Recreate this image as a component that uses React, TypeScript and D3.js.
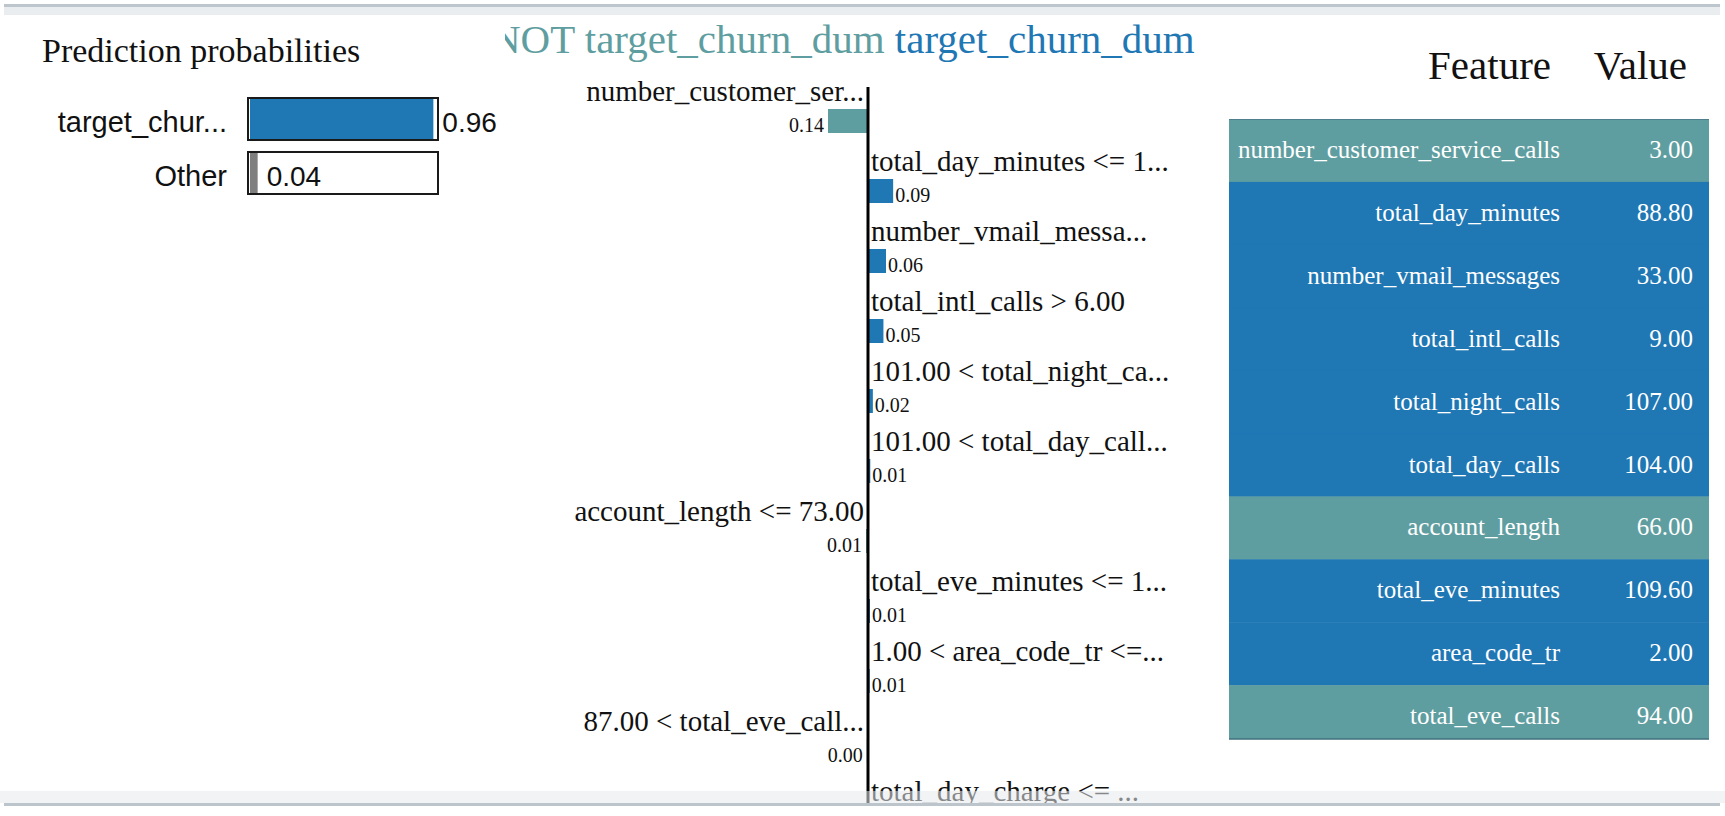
import React, { useRef, useEffect } from "react";
import * as d3 from "d3";

// prediction probabilities
const probClasses = ["target_chur...", "Other"];
const probValues = [0.96, 0.04];
const probColors = ["#1f77b4", "#7f7f7f"];

// explanation title
const titleNeg = "NOT target_churn_dum";
const titlePos = "target_churn_dum";

// explanation bars (negative = NOT class)
const featureLabels = [
  "number_customer_ser...",
  "total_day_minutes <= 1...",
  "number_vmail_messa...",
  "total_intl_calls > 6.00",
  "101.00 < total_night_ca...",
  "101.00 < total_day_call...",
  "account_length <= 73.00",
  "total_eve_minutes <= 1...",
  "1.00 < area_code_tr <=...",
  "87.00 < total_eve_call...",
  "total_day_charge <= ...",
];
const featureWeights = [
  -0.14, 0.088, 0.063, 0.054, 0.017, 0.008, -0.007, 0.007, 0.006, -0.004, 0.004,
];

// feature value table
const tableFeatures = [
  "number_customer_service_calls",
  "total_day_minutes",
  "number_vmail_messages",
  "total_intl_calls",
  "total_night_calls",
  "total_day_calls",
  "account_length",
  "total_eve_minutes",
  "area_code_tr",
  "total_eve_calls",
];
const tableValues = [3.0, 88.8, 33.0, 9.0, 107.0, 104.0, 66.0, 109.6, 2.0, 94.0];

const TEAL = "#5f9ea0";
const BLUE = "#1f77b4";
const SERIF = "'Liberation Serif', 'Times New Roman', serif";
const SANS = "'Liberation Sans', Arial, sans-serif";

export default function App() {
  const svgRef = useRef(null);

  useEffect(() => {
    const width = 1725;
    const height = 816;
    const svg = d3.select(svgRef.current).attr("width", width).attr("height", height);
    svg.selectAll("*").remove();

    svg.append("rect").attr("width", width).attr("height", height).attr("fill", "white");

    const defs = svg.append("defs");
    defs
      .append("clipPath")
      .attr("id", "titleClip")
      .append("rect")
      .attr("x", 505)
      .attr("y", 0)
      .attr("width", 800)
      .attr("height", 90);
    defs
      .append("clipPath")
      .attr("id", "tableClip")
      .append("rect")
      .attr("x", 1200)
      .attr("y", 119)
      .attr("width", 520)
      .attr("height", 620);

    // ---- Prediction probabilities ----
    svg
      .append("text")
      .attr("x", 42)
      .attr("y", 62)
      .attr("font-family", SERIF)
      .attr("font-size", 34)
      .attr("fill", "#111")
      .text("Prediction probabilities");

    const px = d3.scaleLinear().domain([0, 1]).range([250, 441]);
    const py = d3.scaleBand().domain(probClasses).range([97, 195]).paddingInner(0.185);

    const prob = svg
      .selectAll("g.prob")
      .data(probClasses)
      .enter()
      .append("g")
      .attr("class", "prob");

    prob
      .append("rect")
      .attr("x", px(0))
      .attr("y", (d) => py(d) + 2)
      .attr("width", (d, i) => px(probValues[i]) - px(0))
      .attr("height", py.bandwidth() - 4)
      .attr("fill", (d, i) => probColors[i]);

    prob
      .append("rect")
      .attr("x", px(0) - 2)
      .attr("y", (d) => py(d) + 1)
      .attr("width", px(1) - px(0) - 1)
      .attr("height", py.bandwidth() - 2)
      .attr("fill", "none")
      .attr("stroke", "#1a1a1a")
      .attr("stroke-width", 2);

    prob
      .append("text")
      .attr("x", 227)
      .attr("y", (d) => py(d) + 35)
      .attr("text-anchor", "end")
      .attr("font-family", SANS)
      .attr("font-size", 29)
      .attr("fill", "#111")
      .text((d) => d);

    prob
      .append("text")
      .attr("x", (d, i) => px(probValues[i]) + 9)
      .attr("y", (d) => py(d) + 35)
      .attr("font-family", SANS)
      .attr("font-size", 28)
      .attr("fill", "#111")
      .text((d, i) => probValues[i].toFixed(2));

    // ---- Explanation ----
    const title = svg
      .append("g")
      .attr("clip-path", "url(#titleClip)")
      .append("text")
      .attr("x", 491)
      .attr("y", 53)
      .attr("font-family", SERIF)
      .attr("font-size", 41);
    title.append("tspan").attr("fill", TEAL).text(titleNeg + " ");
    title.append("tspan").attr("fill", BLUE).text(titlePos);

    const ex = d3.scaleLinear().domain([-0.14, 0.14]).range([828, 908]);
    const rowY = d3.scaleLinear().domain([0, 1]).range([101, 171]);

    const feat = svg
      .selectAll("g.feat")
      .data(featureWeights)
      .enter()
      .append("g")
      .attr("class", "feat");

    feat
      .append("rect")
      .attr("x", (w) => Math.min(ex(0), ex(w)))
      .attr("y", (w, i) => rowY(i) + 8)
      .attr("width", (w) => Math.abs(ex(w) - ex(0)))
      .attr("height", 24)
      .attr("fill", (w) => (w < 0 ? TEAL : BLUE));

    feat
      .append("text")
      .attr("x", (w) => (w < 0 ? 864 : 871))
      .attr("y", (w, i) => rowY(i))
      .attr("text-anchor", (w) => (w < 0 ? "end" : "start"))
      .attr("font-family", SERIF)
      .attr("font-size", 29)
      .attr("fill", "#111")
      .text((w, i) => featureLabels[i]);

    feat
      .append("text")
      .attr("x", (w) => (w < 0 ? ex(w) - 4 : ex(w) + 2))
      .attr("y", (w, i) => rowY(i) + 31)
      .attr("text-anchor", (w) => (w < 0 ? "end" : "start"))
      .attr("font-family", SERIF)
      .attr("font-size", 20)
      .attr("fill", "#111")
      .text((w) => Math.abs(w).toFixed(2));

    svg
      .append("line")
      .attr("x1", ex(0))
      .attr("x2", ex(0))
      .attr("y1", 87)
      .attr("y2", height)
      .attr("stroke", "#000")
      .attr("stroke-width", 3);

    // ---- Feature / Value table ----
    svg
      .append("text")
      .attr("x", 1551)
      .attr("y", 79)
      .attr("text-anchor", "end")
      .attr("font-family", SERIF)
      .attr("font-size", 41)
      .attr("fill", "#111")
      .text("Feature");
    svg
      .append("text")
      .attr("x", 1687)
      .attr("y", 79)
      .attr("text-anchor", "end")
      .attr("font-family", SERIF)
      .attr("font-size", 41)
      .attr("fill", "#111")
      .text("Value");

    const ty = d3.scaleLinear().domain([0, 1]).range([119, 181.9]);
    const rowH = ty(1) - ty(0);
    const table = svg.append("g").attr("clip-path", "url(#tableClip)");
    const trow = table
      .selectAll("g.trow")
      .data(tableFeatures)
      .enter()
      .append("g")
      .attr("class", "trow");

    trow
      .append("rect")
      .attr("x", 1229)
      .attr("y", (d, i) => ty(i))
      .attr("width", 480)
      .attr("height", rowH + 0.5)
      .attr("fill", (d, i) => (featureWeights[i] < 0 ? TEAL : BLUE));

    trow
      .append("text")
      .attr("x", 1560)
      .attr("y", (d, i) => ty(i) + 39)
      .attr("text-anchor", "end")
      .attr("font-family", SERIF)
      .attr("font-size", 25)
      .attr("fill", "white")
      .text((d) => d);

    trow
      .append("text")
      .attr("x", 1693)
      .attr("y", (d, i) => ty(i) + 39)
      .attr("text-anchor", "end")
      .attr("font-family", SERIF)
      .attr("font-size", 25)
      .attr("fill", "white")
      .text((d, i) => tableValues[i].toFixed(2));

    table
      .append("line")
      .attr("x1", 1229)
      .attr("x2", 1709)
      .attr("y1", 119.5)
      .attr("y2", 119.5)
      .attr("stroke", "#4f7f8c")
      .attr("stroke-width", 1);
    svg
      .append("line")
      .attr("x1", 1229)
      .attr("x2", 1709)
      .attr("y1", 739)
      .attr("y2", 739)
      .attr("stroke", "#3f6f7c")
      .attr("stroke-width", 1.5);

    // ---- window frame bands ----
    svg.append("rect").attr("x", 4).attr("y", 4).attr("width", 1716).attr("height", 3).attr("fill", "#bcc6cc");
    svg.append("rect").attr("x", 4).attr("y", 7).attr("width", 1716).attr("height", 8).attr("fill", "#e9edef");
    svg
      .append("rect")
      .attr("x", 0)
      .attr("y", 791)
      .attr("width", width)
      .attr("height", 12)
      .attr("fill", "#e6eaec")
      .attr("opacity", 0.55);
    svg.append("rect").attr("x", 4).attr("y", 803).attr("width", 1716).attr("height", 3).attr("fill", "#bcc5cb");
    svg.append("rect").attr("x", 0).attr("y", 806).attr("width", width).attr("height", 10).attr("fill", "white");
  }, []);

  return (
    <div style={{ position: "absolute", left: 0, top: 0 }}>
      <svg ref={svgRef} style={{ display: "block" }}></svg>
    </div>
  );
}
